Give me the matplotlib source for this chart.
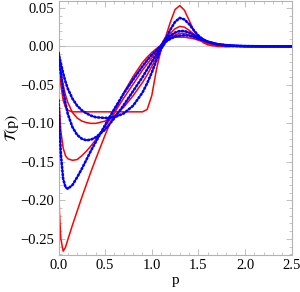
import numpy as np
import matplotlib
matplotlib.use("Agg")
import matplotlib.pyplot as plt
from matplotlib.ticker import MultipleLocator

p = [0, 0.01, 0.025, 0.05, 0.075, 0.1, 0.15, 0.2, 0.25, 0.3, 0.35, 0.4, 0.5, 0.6, 0.7,
     0.8, 0.9, 0.95, 1.0, 1.05, 1.1, 1.15, 1.2, 1.25, 1.3, 1.35, 1.4, 1.45, 1.5, 1.55,
     1.6, 1.7, 1.8, 1.9, 2.0, 2.2, 2.5]

# red (solid) curves
r1 = [-0.165, -0.215, -0.250, -0.266, -0.261, -0.251, -0.232, -0.214, -0.196, -0.179,
      -0.162, -0.146, -0.115, -0.086, -0.060, -0.039, -0.021, -0.014, -0.008, -0.003,
      0.002, 0.013, 0.032, 0.048, 0.053, 0.047, 0.034, 0.021, 0.011, 0.005,
      0.002, 0.0, -0.0005, 0.0, 0.0, 0.0, 0.0]
r2 = [-0.04, -0.08, -0.11, -0.132, -0.142, -0.146, -0.148, -0.147, -0.142, -0.136,
      -0.129, -0.121, -0.104, -0.086, -0.067, -0.049, -0.031, -0.023, -0.015, -0.007,
      0.0, 0.009, 0.017, 0.023, 0.026, 0.025, 0.021, 0.016, 0.011, 0.007,
      0.004, 0.0015, 0.0005, 0.0002, 0.0, 0.0, 0.0]
r3 = [-0.014, -0.022, -0.034, -0.050, -0.063, -0.073, -0.086, -0.093, -0.097, -0.099,
      -0.100, -0.100, -0.097, -0.090, -0.079, -0.064, -0.047, -0.037, -0.026, -0.014,
      -0.002, 0.007, 0.012, 0.015, 0.017, 0.017, 0.015, 0.013, 0.010, 0.007,
      0.005, 0.002, 0.0008, 0.0003, 0.0001, 0.0, 0.0]
r4 = [-0.015, -0.030, -0.050, -0.070, -0.079, -0.083, -0.085, -0.085, -0.085, -0.085,
      -0.085, -0.085, -0.085, -0.085, -0.085, -0.085, -0.085, -0.082, -0.064, -0.030,
      -0.004, 0.007, 0.010, 0.012, 0.012, 0.012, 0.011, 0.010, 0.008, 0.006,
      0.004, 0.002, 0.0008, 0.0003, 0.0001, 0.0, 0.0]

# blue (dotted) curves
b1 = [-0.07, -0.10, -0.14, -0.172, -0.183, -0.185, -0.180, -0.170, -0.159, -0.147,
      -0.135, -0.124, -0.102, -0.081, -0.061, -0.043, -0.026, -0.018, -0.011, -0.005,
      0.001, 0.010, 0.022, 0.032, 0.037, 0.035, 0.029, 0.021, 0.014, 0.009,
      0.006, 0.0025, 0.001, 0.0005, 0.0002, 0.0, 0.0]
b2 = [-0.01, -0.02, -0.035, -0.057, -0.074, -0.088, -0.105, -0.115, -0.120, -0.122,
      -0.121, -0.118, -0.108, -0.093, -0.076, -0.058, -0.040, -0.030, -0.020, -0.010,
      -0.001, 0.008, 0.014, 0.018, 0.020, 0.020, 0.018, 0.015, 0.012, 0.009,
      0.006, 0.003, 0.0015, 0.0007, 0.0003, 0.0001, 0.0]
b3 = [-0.008, -0.014, -0.022, -0.035, -0.046, -0.055, -0.068, -0.077, -0.083, -0.087,
      -0.090, -0.092, -0.093, -0.092, -0.087, -0.077, -0.060, -0.048, -0.034, -0.018,
      -0.003, 0.006, 0.010, 0.013, 0.014, 0.0145, 0.014, 0.012, 0.010, 0.008,
      0.006, 0.003, 0.0016, 0.0008, 0.0004, 0.0001, 0.0]

plt.rcParams['font.family'] = ['Liberation Serif', 'DejaVu Serif']
plt.rcParams['mathtext.fontset'] = 'stix'

fig = plt.figure(figsize=(3.0, 2.92), dpi=100)
ax = fig.add_axes([58.5 / 300, 1 - 255 / 292, (291.7 - 58.5) / 300, 254 / 292])

ax.axhline(0, color='0.8', lw=0.8, zorder=1)

for y in [r1, r2, r3, r4]:
    ax.plot(p, y, color='#ff0000', lw=1.1, zorder=2)
for y in [b1, b2, b3]:
    ax.plot(p, y, color='#0000ff', lw=1.9, linestyle=(0, (0.5, 0.9)),
            dash_capstyle='round', zorder=3)

ax.set_xlim(0, 2.5)
ax.set_ylim(-0.271, 0.059)

ax.xaxis.set_major_locator(MultipleLocator(0.5))
ax.xaxis.set_minor_locator(MultipleLocator(0.1))
ax.yaxis.set_major_locator(MultipleLocator(0.05))
ax.yaxis.set_minor_locator(MultipleLocator(0.01))
ax.xaxis.set_major_formatter(matplotlib.ticker.FormatStrFormatter('%.1f'))
ax.yaxis.set_major_formatter(matplotlib.ticker.FuncFormatter(
    lambda v, pos: ('%.2f' % v).replace('-', '\u2212')))

ax.tick_params(which='both', direction='in', top=True, right=True,
               color='0.7', labelsize=10.5, labelcolor='black', pad=3)
ax.tick_params(which='major', length=4, width=0.6)
ax.tick_params(which='minor', length=2, width=0.5)
for s in ax.spines.values():
    s.set_color('0.7')
    s.set_linewidth(0.8)

ax.set_xlabel('p', fontsize=11, labelpad=1)
ax.set_ylabel(r'$\mathcal{T}(\mathrm{p})$', fontsize=11.5)
ax.yaxis.set_label_coords(-0.16, 0.5)

fig.savefig('out.png', dpi=100)
